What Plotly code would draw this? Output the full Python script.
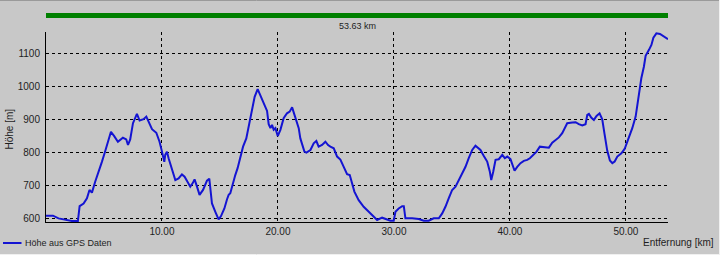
import plotly.graph_objects as go

distance_km = [
    0.0, 0.6, 1.08, 1.66, 2.23, 2.75, 2.9, 3.24, 3.53, 3.75, 3.96, 4.24, 4.45, 4.82, 5.05, 5.34,
    5.6, 5.88, 6.2, 6.63, 6.92, 7.07, 7.26, 7.5, 7.84, 8.07, 8.41, 8.65, 8.93, 9.14, 9.51, 9.79,
    10.0, 10.14, 10.2, 10.28, 10.43, 10.57, 10.86, 11.15, 11.43, 11.72, 11.95, 12.16, 12.44, 12.64,
    12.81, 13.02, 13.24, 13.54, 13.74, 13.88, 14.08, 14.17, 14.31, 14.6, 14.88, 15.09, 15.38, 15.61,
    15.75, 15.89, 16.04, 16.32, 16.52, 16.7, 16.99, 17.27, 17.56, 17.77, 17.99, 18.25, 18.5, 18.77,
    19.06, 19.2, 19.35, 19.49, 19.63, 19.78, 19.98, 20.21, 20.49, 20.78, 21.01, 21.22, 21.35, 21.59,
    21.79, 21.93, 22.28, 22.45, 22.8, 23.08, 23.31, 23.51, 23.8, 24.09, 24.32, 24.52, 24.81, 25.1,
    25.38, 25.67, 25.96, 26.19, 26.39, 26.59, 26.96, 27.39, 27.83, 28.26, 28.55, 28.98, 29.27, 29.7,
    29.98, 30.13, 30.41, 30.71, 30.85, 30.99, 31.57, 32.14, 32.57, 33.0, 33.43, 33.87, 34.16, 34.44,
    34.73, 35.02, 35.31, 35.59, 35.88, 36.17, 36.45, 36.75, 37.03, 37.32, 37.46, 37.75, 38.04, 38.27,
    38.39, 38.56, 38.76, 39.04, 39.34, 39.56, 39.77, 40.05, 40.2, 40.4, 40.63, 40.91, 41.2, 41.49,
    41.72, 42.01, 42.3, 42.58, 42.93, 43.36, 43.65, 43.93, 44.22, 44.51, 44.71, 44.94, 45.38, 45.66,
    45.94, 46.24, 46.52, 46.67, 46.81, 47.01, 47.24, 47.47, 47.73, 47.96, 48.16, 48.39, 48.62, 48.83,
    49.03, 49.26, 49.61, 49.89, 50.17, 50.55, 50.84, 51.12, 51.33, 51.55, 51.7, 51.99, 52.2, 52.37,
    52.63, 52.94, 53.29, 53.63,
]
elevation_m = [
    608, 608, 600, 595, 592, 592, 637, 645, 661, 686, 678, 711, 731, 771, 797, 832,
    862, 849, 832, 844, 839, 822, 839, 888, 916, 896, 900, 908, 886, 870, 859, 832,
    802, 777, 771, 792, 802, 782, 752, 716, 721, 733, 726, 711, 696, 706,
    718, 696, 671, 686, 704, 714, 720, 686, 645, 620, 597, 607, 630, 658,
    671, 676, 698, 731, 752, 777, 817, 842, 890, 928, 968, 991, 972, 948,
    925, 885, 873, 883, 868, 873, 849, 868, 903, 918, 923, 936, 923, 898,
    873, 842, 802, 799, 807, 827, 834, 817, 822, 832, 822, 817, 812, 787,
    778, 756, 734, 731, 706, 681, 655, 635, 620, 603, 595, 602, 598, 593,
    593, 620, 630, 637, 637, 600, 600, 598, 593, 593, 600, 600, 615, 635,
    661, 686, 696, 716, 736, 756, 782, 807, 820, 812, 807, 789, 772, 741,
    716, 741, 777, 779, 792, 782, 787, 779, 762, 744, 756, 767, 774, 777,
    782, 792, 802, 817, 815, 814, 829, 837, 845, 858, 873, 888, 890, 891,
    885, 881, 885, 913, 916, 905, 898, 910, 918, 900, 855, 805, 775, 767,
    772, 787, 797, 810, 837, 873, 908, 984, 1024, 1059, 1092, 1110, 1125, 1147,
    1160, 1158, 1150, 1142,
]
x_ticks = [10, 20, 30, 40, 50]
y_ticks = [600, 700, 800, 900, 1000, 1100]
series_name = "Höhe aus GPS Daten"
x_title = "Entfernung [km]"
y_title = "Höhe [m]"

W, H = 720, 255
L, R, T, B = 46, 52, 32, 33
pw, ph = W - L - R, H - T - B


def px_x(p):
    return (p - L) / pw


def px_y(p):
    return (H - B - p) / ph


BG = "#c8c8c8"
TXT = "#1e1e1e"
LINE = "#1414d2"
FONT = "Liberation Sans, Arial, sans-serif"

fig = go.Figure()
fig.add_trace(go.Scatter(
    x=distance_km, y=elevation_m, mode="lines", name=series_name,
    line=dict(color=LINE, width=2), showlegend=False,
))

axis_common = dict(
    showgrid=True, gridcolor="black", gridwidth=1, griddash="3px,3px",
    zeroline=False, showline=True, linecolor="black", linewidth=1,
    ticks="", tickfont=dict(family=FONT, size=10, color=TXT),
)
fig.update_xaxes(range=[0, distance_km[-1]], tickvals=x_ticks,
                 ticktext=[f"{v:.2f}" for v in x_ticks], **axis_common)
fig.update_yaxes(range=[589, 1164], tickvals=y_ticks, ticklabelstandoff=3, **axis_common)

shapes = [
    # green total-distance bar
    dict(type="rect", xref="paper", yref="paper", x0=0, x1=1,
         y0=px_y(18), y1=px_y(13), fillcolor="#008000", line=dict(width=0), layer="above"),
    # legend sample line
    dict(type="line", xref="paper", yref="paper", x0=px_x(3), x1=px_x(21.5),
         y0=px_y(243), y1=px_y(243), line=dict(color=LINE, width=2)),
    # window frame
    dict(type="line", xref="paper", yref="paper", x0=px_x(0), x1=px_x(W),
         y0=px_y(0.5), y1=px_y(0.5), line=dict(color="#9a9a9a", width=1)),
    dict(type="line", xref="paper", yref="paper", x0=px_x(0), x1=px_x(W),
         y0=px_y(254.5), y1=px_y(254.5), line=dict(color="#f0f0f0", width=1)),
    dict(type="line", xref="paper", yref="paper", x0=px_x(719.5), x1=px_x(719.5),
         y0=px_y(0), y1=px_y(H), line=dict(color="#f0f0f0", width=1)),
]

annotations = [
    dict(text=f"{distance_km[-1]:.2f} km", xref="paper", yref="paper",
         x=px_x((L + W - R) / 2), y=px_y(26), xanchor="center", yanchor="middle",
         showarrow=False, font=dict(family=FONT, size=9, color=TXT)),
    dict(text=series_name, xref="paper", yref="paper", x=px_x(23), y=px_y(243),
         xanchor="left", yanchor="middle", showarrow=False,
         font=dict(family=FONT, size=9, color=TXT)),
    dict(text=x_title, xref="paper", yref="paper", x=px_x(716), y=px_y(243),
         xanchor="right", yanchor="middle", showarrow=False,
         font=dict(family=FONT, size=10, color=TXT)),
    dict(text=y_title, xref="paper", yref="paper", x=px_x(8.5), y=px_y(129),
         xanchor="center", yanchor="middle", textangle=-90, showarrow=False,
         font=dict(family=FONT, size=10, color=TXT)),
]

fig.update_layout(
    width=W, height=H, margin=dict(l=L, r=R, t=T, b=B, pad=0),
    paper_bgcolor=BG, plot_bgcolor=BG, shapes=shapes, annotations=annotations,
    showlegend=False,
)

fig.write_html("out.html", config={"displayModeBar": False})
